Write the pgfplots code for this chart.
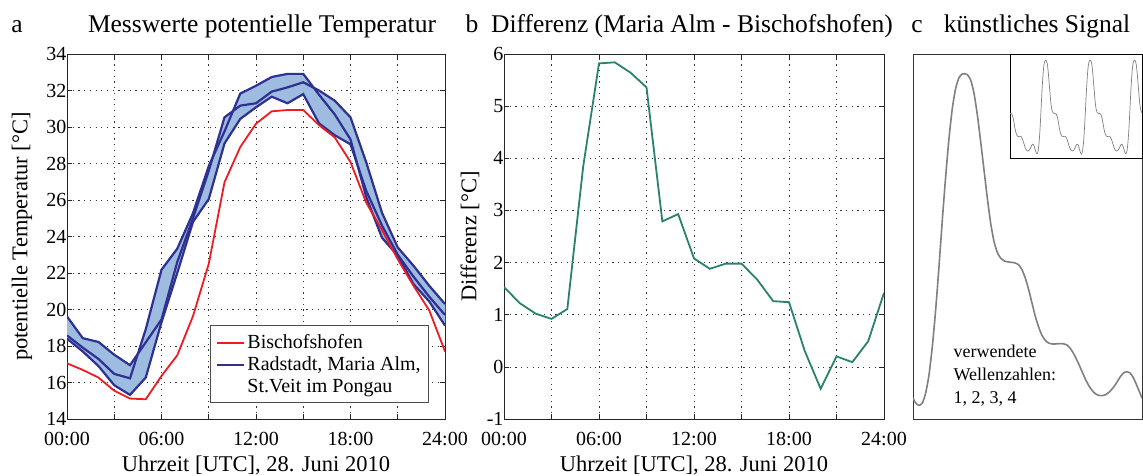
\documentclass[border=0pt]{standalone}
\usepackage{fontspec}
\setmainfont{Liberation Serif}
\usepackage{pgfplots}
\pgfplotsset{compat=1.18}
\usepgfplotslibrary{fillbetween}
\usepackage{pgfplotstable}
\definecolor{bred}{RGB}{237,28,36}
\definecolor{bblue}{RGB}{46,49,146}
\definecolor{bfill}{RGB}{158,187,224}
\definecolor{bgreen}{RGB}{42,130,110}
\definecolor{sgray}{RGB}{128,128,128}

\pgfplotstableread{
h B M L1 L2
0 17.05 18.58 19.62 18.40
1 16.69 17.91 18.43 17.70
2 16.27 17.29 18.22 16.90
3 15.55 16.47 17.52 15.85
4 15.12 16.23 16.95 15.32
5 15.08 18.92 18.20 16.27
6 16.36 22.18 19.45 19.30
7 17.49 23.33 22.60 22.00
8 19.64 25.28 25.00 24.80
9 22.50 27.86 27.60 26.05
10 26.97 29.76 30.53 29.10
11 28.90 31.83 31.17 30.44
12 30.18 32.26 31.30 31.08
13 30.86 32.74 31.94 31.66
14 30.93 32.91 32.17 31.30
15 30.93 32.91 32.45 31.80
16 30.10 31.77 32.00 30.20
17 29.43 30.69 31.44 29.55
18 28.08 29.32 30.53 29.05
19 25.85 26.15 28.06 26.50
20 24.35 23.93 25.30 24.60
21 22.75 22.95 23.40 23.00
22 21.30 21.39 22.40 21.80
23 19.95 20.44 21.30 20.70
24 17.70 19.12 20.30 19.70
}\tempdata

\pgfplotstableread{
h D
0 1.53
1 1.22
2 1.02
3 0.92
4 1.11
5 3.84
6 5.82
7 5.84
8 5.64
9 5.36
10 2.79
11 2.93
12 2.08
13 1.88
14 1.98
15 1.98
16 1.67
17 1.26
18 1.24
19 0.30
20 -0.42
21 0.20
22 0.09
23 0.49
24 1.42
}\diffdata

\pgfplotstableread{
x y
40 63
48 48
58 41
68 48
78 78
88 133
98 218
108 328
118 458
128 598
138 728
148 843
158 933
168 993
178 1025
188 1036
195 1037
203 1034
213 1018
223 978
233 913
243 833
253 748
263 663
273 588
283 533
293 500
303 483
315 474
330 471
345 469
357 463
367 448
377 423
387 388
397 348
407 308
417 276
427 251
437 236
447 228
460 225
475 226
490 226
502 222
512 212
522 196
534 172
546 145
558 118
570 96
582 80
594 72
606 70
618 73
630 82
642 96
654 114
664 130
674 140
682 142
690 139
700 126
710 104
720 80
727 63
}\signal

\begin{document}
\begin{tikzpicture}
\pgfplotsset{
  myaxis/.style={
    scale only axis,
    axis line style={line width=0.8pt, black!85},
    tick style={black!85, line width=0.6pt},
    major tick length=5pt, minor tick length=5pt,
    tick label style={font=\fontsize{20}{24}\selectfont},
    xticklabel style={yshift=-10pt},
    yticklabel style={xshift=3pt},
    label style={font=\fontsize{22.5}{27}\selectfont},
    /pgf/number format/assume math mode=true,
    grid=both,
    major grid style={black!80, line width=0.6pt, dash pattern=on 1.2pt off 4.5pt},
    minor grid style={black!80, line width=0.6pt, dash pattern=on 1.2pt off 4.5pt},
    xmin=0, xmax=24,
    xtick={0,6,12,18,24},
    minor xtick={3,9,15,21},
    xticklabels={00:00,06:00,12:00,18:00,24:00},
    xlabel={Uhrzeit [UTC], 28. Juni 2010},
    xlabel style={at={(axis description cs:0.5,-0.126)}, anchor=center},
  }
}
% Panel a
\begin{axis}[myaxis,
  at={(67pt,57pt)}, anchor=south west, width=378pt, height=365pt,
  ymin=14, ymax=34, ytick={14,16,...,34},
  ylabel={potentielle Temperatur [°C]},
  ylabel style={at={(axis description cs:-0.119,0.5)}, anchor=center},
  legend style={at={(0.958,0.044)}, anchor=south east, draw=black!70, line width=0.8pt,
    font=\fontsize{20}{24}\selectfont, cells={anchor=west}, inner xsep=6pt, inner ysep=7pt,
    row sep=2.5pt},
  legend image code/.code={\draw[#1] (0pt,0pt) -- (27pt,0pt);},
]
\addplot[name path=pL1, draw=none, forget plot] table[x=h,y=L1]{\tempdata};
\addplot[name path=pM, draw=none, forget plot] table[x=h,y=M]{\tempdata};
\addplot[name path=pL2, draw=none, forget plot] table[x=h,y=L2]{\tempdata};
\addplot[fill=bfill, draw=none, forget plot] fill between[of=pL1 and pM];
\addplot[fill=bfill, draw=none, forget plot] fill between[of=pM and pL2];
\addplot[fill=bfill, draw=none, forget plot] fill between[of=pL1 and pL2];
\addplot[bblue, line width=2.2pt, forget plot] table[x=h,y=L1]{\tempdata};
\addplot[bblue, line width=2.2pt, forget plot] table[x=h,y=M]{\tempdata};
\addplot[bblue, line width=2.2pt, forget plot] table[x=h,y=L2]{\tempdata};
\addplot[bred, line width=1.8pt, forget plot] table[x=h,y=B]{\tempdata};
\addlegendimage{bred, line width=1.8pt}
\addlegendentry{Bischofshofen}
\addlegendimage{bblue, line width=2.2pt}
\addlegendentry{Radstadt, Maria Alm,}
\addlegendimage{empty legend}
\addlegendentry{St.Veit im Pongau}
\end{axis}
% Panel b
\begin{axis}[myaxis,
  at={(504pt,57pt)}, anchor=south west, width=380pt, height=365pt,
  ymin=-1, ymax=6, ytick={-1,0,...,6},
  ylabel={Differenz [°C]},
  ylabel style={at={(axis description cs:-0.0895,0.5)}, anchor=center},
]
\addplot[bgreen, line width=1.8pt] table[x=h,y=D]{\diffdata};
\end{axis}
% Panel c
\begin{axis}[scale only axis,
  at={(913pt,57pt)}, anchor=south west, width=229pt, height=365pt,
  xmin=40, xmax=727, ymin=0, ymax=1096,
  xtick=\empty, ytick=\empty,
  axis line style={line width=0.8pt, black!80},
]
\addplot[sgray, line width=1.6pt, smooth, tension=0.4] table[x=x,y=y]{\signal};
\end{axis}
% Inset
\begin{axis}[scale only axis,
  at={(1010pt,318pt)}, anchor=south west, width=132pt, height=104pt,
  xmin=-358, xmax=1683, ymin=-5, ymax=1106,
  xtick=\empty, ytick=\empty,
  axis background/.style={fill=white},
  axis line style={line width=0.8pt, black},
]
\addplot[sgray, line width=0.7pt, smooth, tension=0.4] table[x expr=\thisrow{x}-687,y=y]{\signal};
\addplot[sgray, line width=0.7pt, smooth, tension=0.4] table[x=x,y=y]{\signal};
\addplot[sgray, line width=0.7pt, smooth, tension=0.4] table[x expr=\thisrow{x}+687,y=y]{\signal};
\addplot[sgray, line width=0.7pt, smooth, tension=0.4] table[x expr=\thisrow{x}+1374,y=y]{\signal};
\end{axis}
% Panel c text
\node[anchor=west, align=left, font=\fontsize{18}{23}\selectfont] at (950pt,100pt) {verwendete\\Wellenzahlen:\\1, 2, 3, 4};
% Titles
\node[anchor=base, font=\fontsize{25.5}{30}\selectfont] at (17pt,443pt) {a};
\node[anchor=base, font=\fontsize{25.5}{30}\selectfont] at (262pt,443pt) {Messwerte potentielle Temperatur};
\node[anchor=base, font=\fontsize{25.5}{30}\selectfont] at (472pt,443pt) {b};
\node[anchor=base, font=\fontsize{25.5}{30}\selectfont] at (692pt,443pt) {Differenz (Maria Alm - Bischofshofen)};
\node[anchor=base, font=\fontsize{25.5}{30}\selectfont] at (917pt,443pt) {c};
\node[anchor=base, font=\fontsize{25.5}{30}\selectfont] at (1037pt,443pt) {künstliches Signal};
\pgfresetboundingbox
\path[use as bounding box] (0pt,0pt) rectangle (1143pt,476pt);
\end{tikzpicture}
\end{document}
